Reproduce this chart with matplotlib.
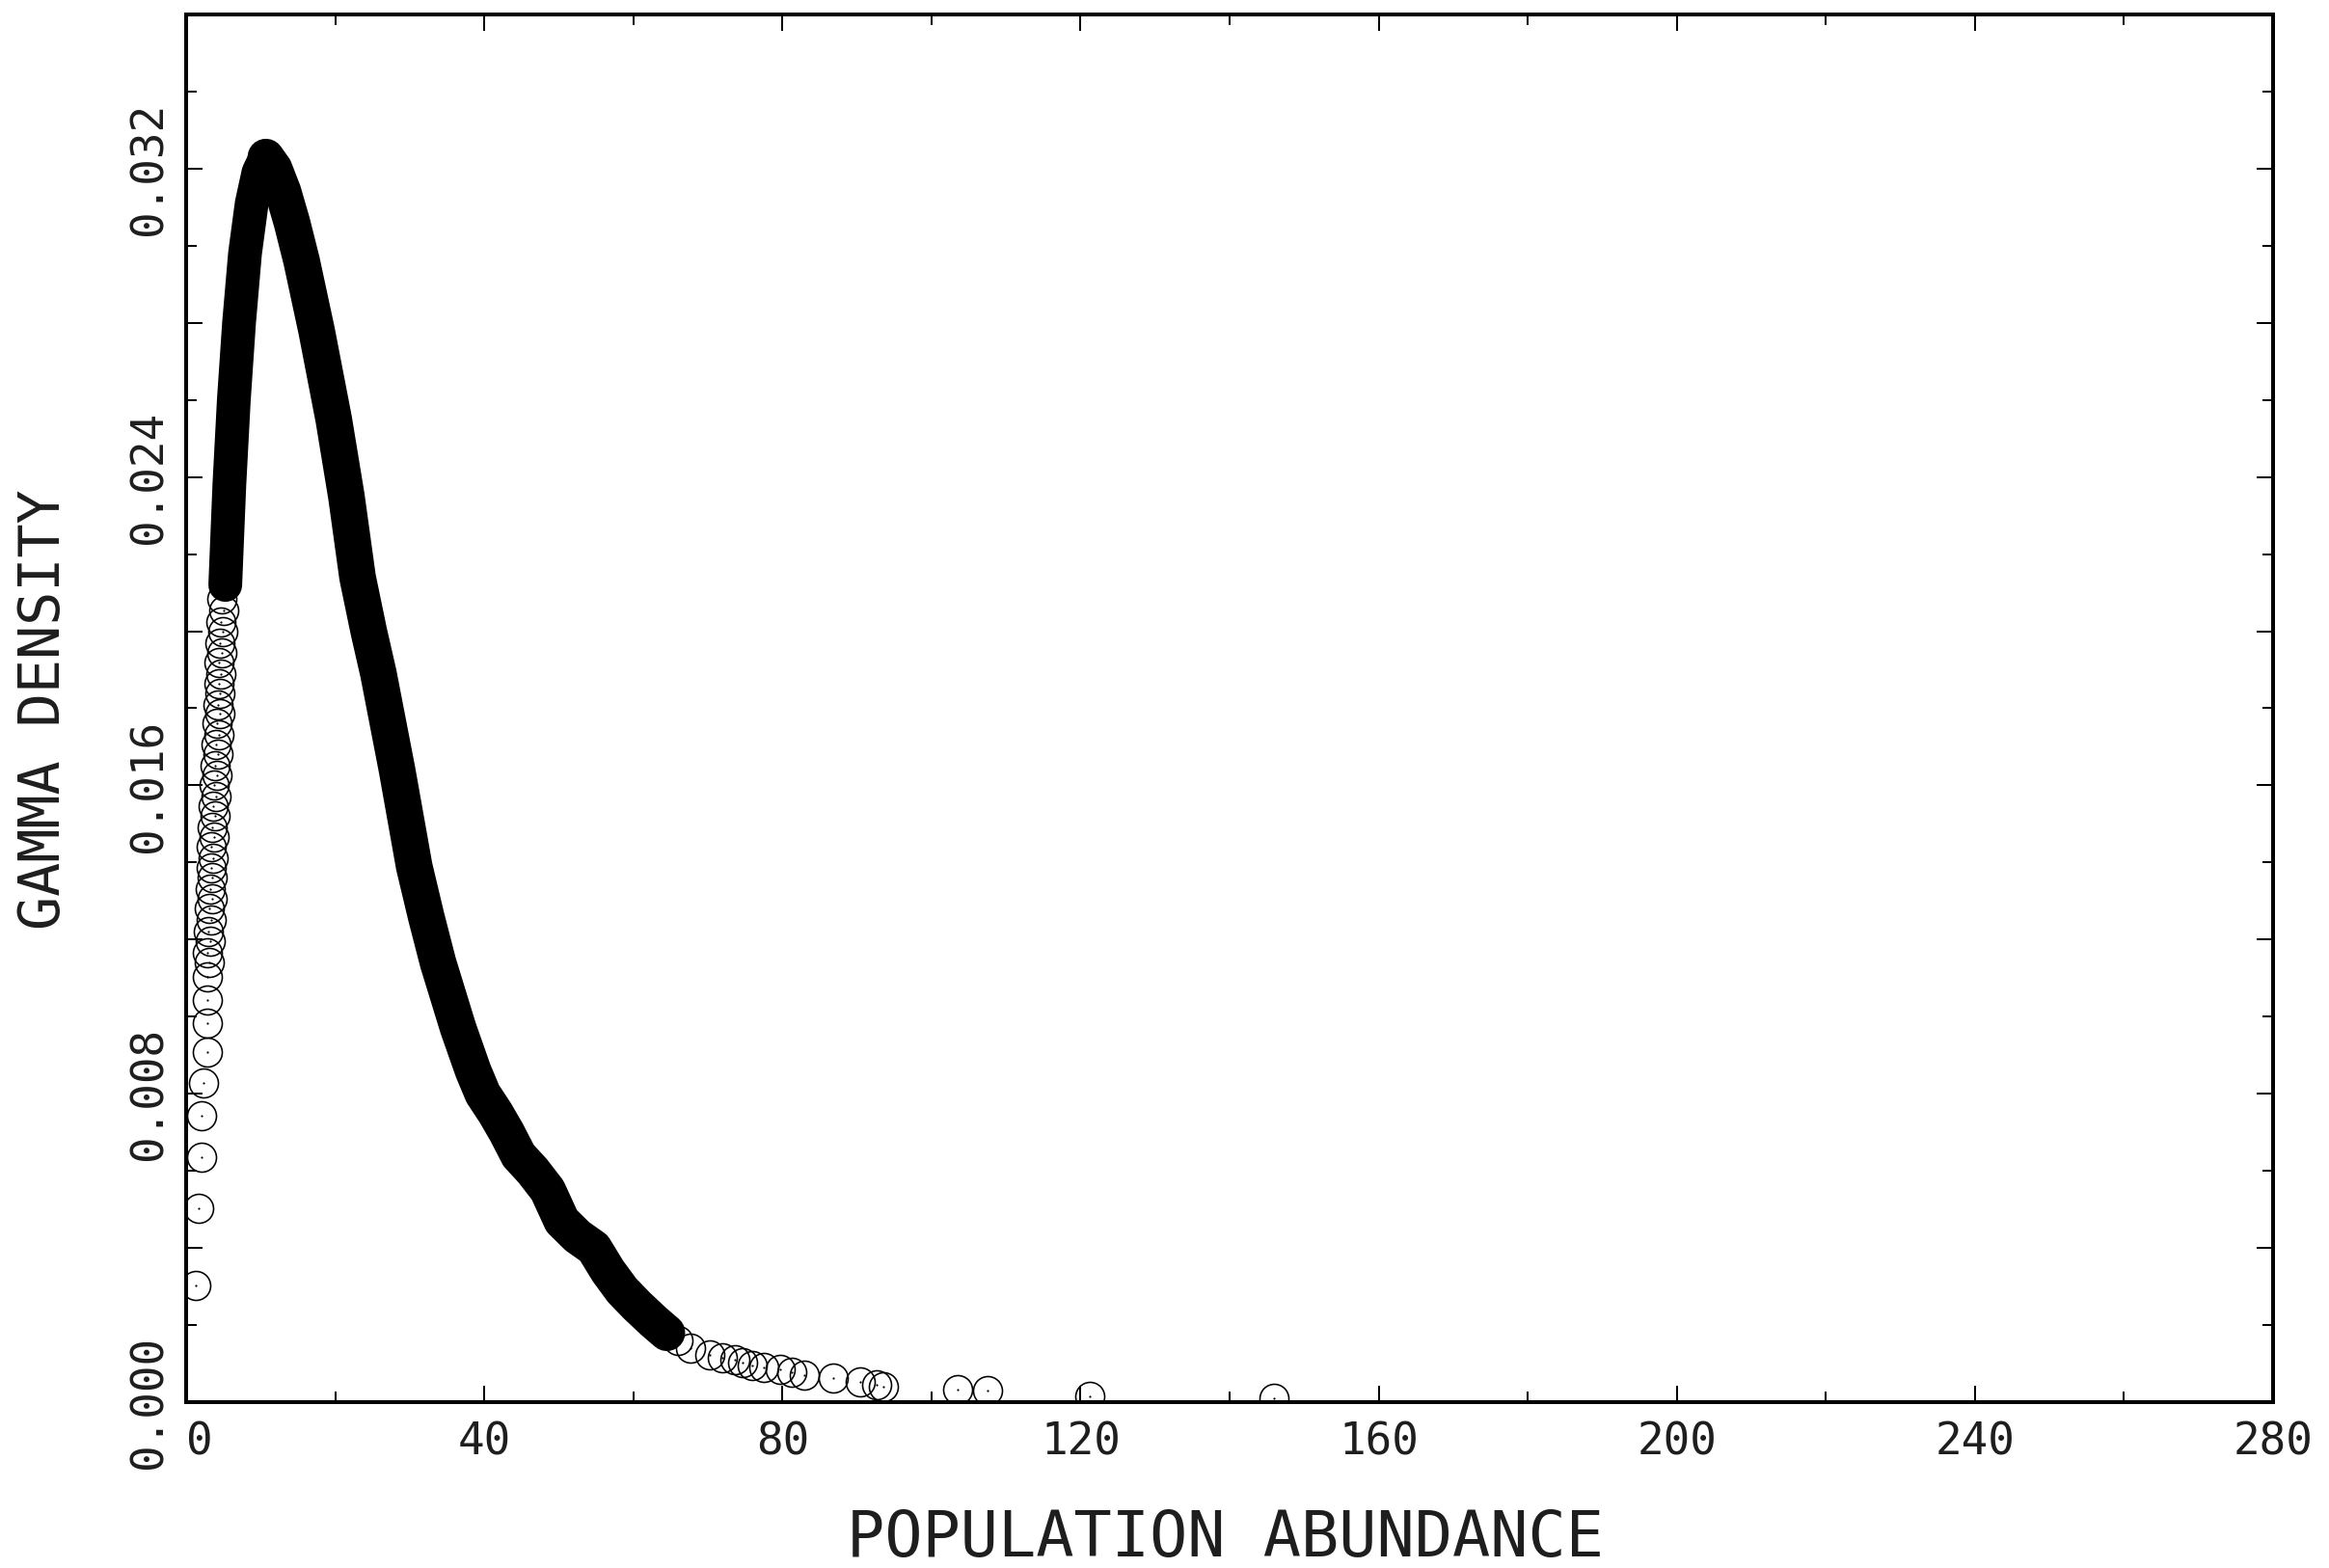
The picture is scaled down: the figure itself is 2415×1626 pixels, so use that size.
import matplotlib
matplotlib.use("Agg")
import matplotlib.pyplot as plt
from matplotlib.ticker import MultipleLocator, FuncFormatter
import matplotlib.transforms as mtransforms

# ---- data: population abundance vs gamma density ----
# low abundances, where single circles are still distinguishable
low_x = [1.33, 1.72, 2.07, 2.07, 2.37, 2.81, 2.81, 2.81, 2.81,
         3.05, 2.85, 3.25, 3.00, 3.35, 3.10, 3.45, 3.20, 3.55, 3.30, 3.65,
         3.42, 3.78, 3.52, 3.90, 3.62, 4.02, 3.75, 4.12, 3.86, 4.25, 3.98,
         4.36, 4.08, 4.48, 4.22, 4.58, 4.35, 4.70, 4.46, 4.80, 4.58, 4.92,
         4.70, 5.02, 4.85]
low_y = [0.00302, 0.00502, 0.00636, 0.00744, 0.00829, 0.00909, 0.00983, 0.01043,
         0.01103, 0.01140, 0.01165, 0.01195, 0.01220, 0.01250, 0.01280, 0.01305,
         0.01330, 0.01360, 0.01385, 0.01410, 0.01440, 0.01465, 0.01490, 0.01520,
         0.01545, 0.01570, 0.01600, 0.01625, 0.01650, 0.01680, 0.01705, 0.01730,
         0.01760, 0.01785, 0.01810, 0.01840, 0.01865, 0.01890, 0.01920, 0.01945,
         0.01970, 0.02000, 0.02025, 0.02055, 0.02085]

# body of the distribution, rising edge (circles merge into a solid band)
rise_x = [5.25, 5.8, 6.4, 7.1, 7.9, 8.8, 9.7, 10.7]
rise_y = [0.0212, 0.0238, 0.0260, 0.0280, 0.0298, 0.0311, 0.0319, 0.0323]

# body of the distribution, falling edge
fall_x = [10.7, 11.8, 13.0, 14.2, 15.5, 17.5, 19.8, 21.5, 23.0, 24.5, 25.8, 28.3,
          30.6, 32.2, 33.8, 36.5, 38.5, 39.8, 41.5, 43.0, 44.6, 46.5, 48.5, 50.4,
          52.5, 54.7, 56.6, 58.5, 60.5, 62.7, 64.5]
fall_y = [0.0323, 0.0320, 0.0314, 0.0306, 0.0296, 0.0278, 0.0255, 0.0235, 0.0214,
          0.0200, 0.0189, 0.0164, 0.0139, 0.0126, 0.0114, 0.0097, 0.0086, 0.0080,
          0.0075, 0.0070, 0.0064, 0.0060, 0.0055, 0.0047, 0.0043, 0.0040, 0.0034,
          0.0029, 0.0025, 0.0021, 0.0018]

# upper tail, sparse circles
tail_x = [66.0, 67.7, 70.2, 72.0, 73.6, 74.7, 76.0, 77.5, 79.7, 81.2, 83.0, 86.8,
          90.4, 92.6, 93.6, 103.5, 107.5, 121.2, 146.0]
tail_y = [0.00160, 0.00140, 0.00122, 0.00115, 0.00110, 0.00102, 0.00095, 0.00090,
          0.00084, 0.00077, 0.00070, 0.00062, 0.00052, 0.00046, 0.00040, 0.00032,
          0.00029, 0.00016, 0.00010]

x_ticks = [0, 40, 80, 120, 160, 200, 240, 280]
y_ticks = [0.000, 0.008, 0.016, 0.024, 0.032]
x_label = "POPULATION ABUNDANCE"
y_label = "GAMMA DENSITY"

# ---- figure ----
DPI = 100
W, H = 2415, 1626
PT = 72.0 / DPI  # points per pixel

plt.rcParams["font.family"] = ["DejaVu Sans Mono", "DejaVu Sans"]
text_color = "#1e1e1e"

fig = plt.figure(figsize=(W / DPI, H / DPI), dpi=DPI, facecolor="white")
left, right, top, bottom = 193, 2357, 15, 1454
ax = fig.add_axes([left / W, 1 - bottom / H, (right - left) / W, (bottom - top) / H])
ax.set_xlim(0, 280)
ax.set_ylim(0, 0.036)

ink = "black"
ring = dict(linestyle="none", marker="o", markersize=30 * PT,
            markerfacecolor="none", markeredgecolor=ink,
            markeredgewidth=1.6 * PT)
dot = dict(linestyle="none", marker="o", markersize=2.2 * PT,
           markerfacecolor=ink, markeredgecolor=ink, markeredgewidth=0)

# saturated band where thousands of circles overlap
ax.plot(rise_x, rise_y, color=ink, linewidth=35 * PT,
        solid_capstyle="round", solid_joinstyle="round")
ax.plot(fall_x, fall_y, color=ink, linewidth=38 * PT,
        solid_capstyle="round", solid_joinstyle="round")

for xs, ys in ((low_x, low_y), (rise_x, rise_y), (fall_x, fall_y), (tail_x, tail_y)):
    ax.plot(xs, ys, **ring)
    ax.plot(xs, ys, **dot)

# ---- axes styling ----
for s in ax.spines.values():
    s.set_linewidth(4 * PT)
    s.set_color(ink)

ax.xaxis.set_major_locator(plt.FixedLocator(x_ticks))
ax.xaxis.set_minor_locator(MultipleLocator(20))
ax.yaxis.set_major_locator(MultipleLocator(0.004))
ax.yaxis.set_minor_locator(MultipleLocator(0.002))

ax.xaxis.set_major_formatter(FuncFormatter(lambda v, p: f"{v:.0f}"))
ax.yaxis.set_major_formatter(FuncFormatter(
    lambda v, p: next((f"{t:.3f}" for t in y_ticks if abs(t - v) < 1e-9), "")))

ax.tick_params(which="both", direction="in", top=True, right=True,
               width=2 * PT, color=ink)
ax.tick_params(which="major", length=17 * PT)
ax.tick_params(which="minor", length=11 * PT)
ax.tick_params(axis="x", which="major", labelsize=33, pad=14, labelcolor=text_color)
ax.tick_params(axis="y", which="major", labelsize=33, pad=11, labelcolor=text_color)
for lab in ax.get_yticklabels():
    lab.set_rotation(90)
    lab.set_verticalalignment("center")

# the first x label sits a little right of its tick
fig.canvas.draw()
first = ax.get_xticklabels()[0]
first.set_transform(first.get_transform() +
                    mtransforms.ScaledTranslation(14 / DPI, 0, fig.dpi_scale_trans))

fig.text(1271 / W, 1 - 1596 / H, x_label, ha="center", va="center",
         fontsize=47, color=text_color)
fig.text(46 / W, 1 - 736 / H, y_label, ha="center", va="center",
         rotation=90, fontsize=42, color=text_color)

fig.savefig("out.png", dpi=DPI, facecolor="white")
